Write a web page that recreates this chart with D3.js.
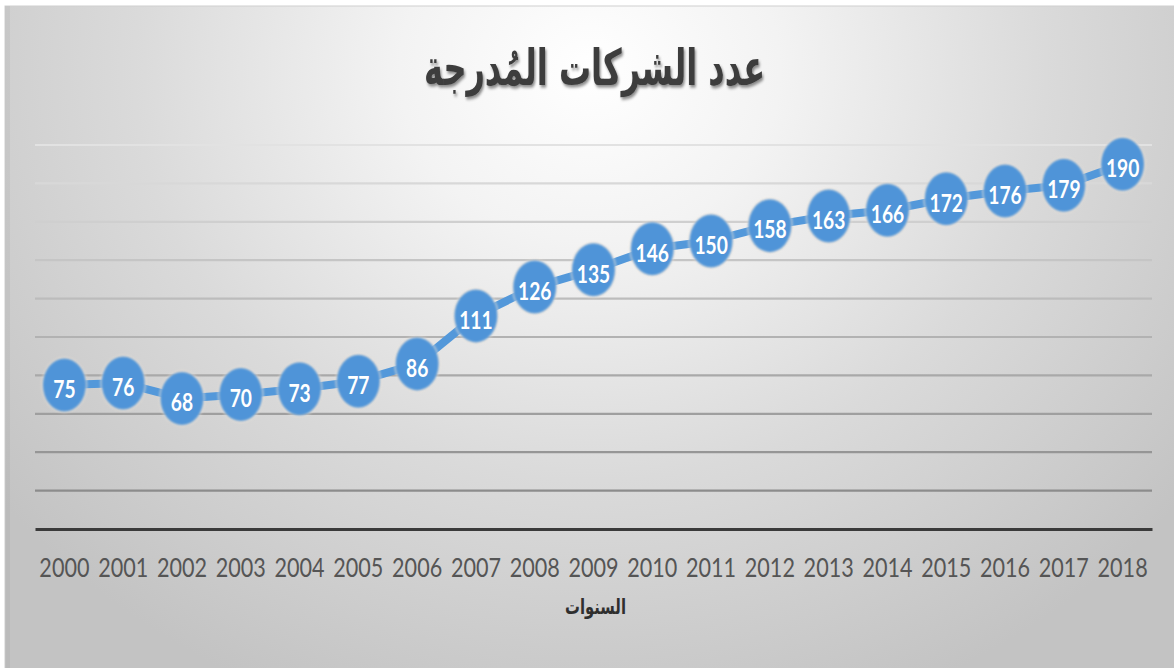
<!DOCTYPE html>
<html>
<head>
<meta charset="utf-8">
<script src="https://cdn.jsdelivr.net/npm/d3@7"></script>
<style>
  html, body { margin: 0; padding: 0; background: #ffffff; }
  svg { display: block; }
</style>
</head>
<body>
<svg id="chart" width="1174" height="668"></svg>
<script>
// Listed companies per year
const years = ["2000","2001","2002","2003","2004","2005","2006","2007","2008","2009",
               "2010","2011","2012","2013","2014","2015","2016","2017","2018"];
const companies = [75, 76, 68, 70, 73, 77, 86, 111, 126, 135, 146, 150, 158, 163, 166, 172, 176, 179, 190];
const gridValues = [20, 40, 60, 80, 100, 120, 140, 160, 180, 200];
const titleText = "عدد الشركات المُدرجة";
const axisTitleText = "السنوات";

const W = 1174, H = 668;
const plot = { left: 35, right: 1152, top: 145, bottom: 529 };
const squeeze = 0.8; // horizontal text compression

const svg = d3.select("#chart");
const defs = svg.append("defs");

// background: light centre near the title, grey towards the edges
const bg = defs.append("radialGradient").attr("id", "bgGrad")
  .attr("gradientUnits", "userSpaceOnUse")
  .attr("cx", 590).attr("cy", 70).attr("r", 760)
  .attr("gradientTransform", "translate(590,70) scale(1,0.9) translate(-590,-70)");
bg.append("stop").attr("offset", "0").attr("stop-color", "#ffffff");
bg.append("stop").attr("offset", "0.25").attr("stop-color", "#f3f3f3");
bg.append("stop").attr("offset", "0.6").attr("stop-color", "#dadada");
bg.append("stop").attr("offset", "1").attr("stop-color", "#c3c3c3");

const shadow = defs.append("filter").attr("id", "titleShadow")
  .attr("x", "-10%").attr("y", "-30%").attr("width", "120%").attr("height", "160%");
shadow.append("feDropShadow").attr("dx", 2).attr("dy", 2.5).attr("stdDeviation", 1.6)
  .attr("flood-color", "#000").attr("flood-opacity", 0.45);

const glow = defs.append("filter").attr("id", "markerGlow")
  .attr("x", "-30%").attr("y", "-30%").attr("width", "160%").attr("height", "160%");
glow.append("feGaussianBlur").attr("in", "SourceGraphic").attr("stdDeviation", 0.8);

svg.append("rect").attr("x", 5).attr("y", 6).attr("width", W).attr("height", H)
  .attr("fill", "url(#bgGrad)").attr("stroke", "#cfcfcf").attr("stroke-width", 1);
svg.append("rect").attr("x", 5).attr("y", 6).attr("width", 5).attr("height", H)
  .attr("fill", "#000").attr("opacity", 0.04);

const x = d3.scaleBand().domain(years).range([plot.left, plot.right]);
const y = d3.scaleLinear().domain([0, 200]).range([plot.bottom, plot.top]);

// gridlines fade towards the top
const gridColor = d3.scaleLinear().domain([20, 200]).range(["#8c8c8c", "#e2e2e2"]);
svg.append("g").selectAll("line").data(gridValues).join("line")
  .attr("x1", plot.left).attr("x2", plot.right)
  .attr("y1", d => y(d)).attr("y2", d => y(d))
  .attr("stroke", d => gridColor(d)).attr("stroke-width", 2.2);

// category axis
const xAxis = svg.append("g").attr("transform", `translate(0,${y(0)})`)
  .call(d3.axisBottom(x).tickSize(0).tickPadding(0));
xAxis.select(".domain").attr("stroke", "#3a3a3a").attr("stroke-width", 3.2);
xAxis.selectAll(".tick text").remove();
xAxis.selectAll(".tick").append("text")
  .attr("transform", `translate(0,48) scale(${squeeze},1)`)
  .attr("text-anchor", "middle")
  .attr("fill", "#555555")
  .style("font-family", "Lato, 'Open Sans', sans-serif")
  .style("font-size", "27px")
  .text(d => d);

// axis title
svg.append("text")
  .attr("transform", `translate(${(plot.left + plot.right) / 2 + 2},614) scale(0.74,1.05)`)
  .attr("text-anchor", "middle")
  .attr("fill", "#2f2f2f")
  .style("font-family", "'DejaVu Sans', sans-serif")
  .style("font-weight", "bold")
  .style("font-size", "20px")
  .text(axisTitleText);

// chart title
svg.append("text")
  .attr("transform", `translate(${(plot.left + plot.right) / 2 + 1},85) scale(0.64,1)`)
  .attr("text-anchor", "middle")
  .attr("fill", "#3d3d3d")
  .attr("filter", "url(#titleShadow)")
  .style("font-family", "'DejaVu Sans', sans-serif")
  .style("font-weight", "bold")
  .style("font-size", "50px")
  .text(titleText);

const pts = years.map((yr, i) => ({ yr, v: companies[i], cx: x(yr) + x.bandwidth() / 2, cy: y(companies[i]) }));

// series line
svg.append("path").datum(pts)
  .attr("d", d3.line().x(d => d.cx).y(d => d.cy))
  .attr("fill", "none").attr("stroke", "#5398da").attr("stroke-width", 8)
  .attr("stroke-linejoin", "round");

// markers with labels
const mk = svg.append("g").selectAll("g").data(pts).join("g")
  .attr("transform", d => `translate(${d.cx},${d.cy})`);
mk.append("ellipse").attr("rx", 23).attr("ry", 28)
  .attr("fill", "#fbe9d6").attr("opacity", 0.55).attr("filter", "url(#markerGlow)");
mk.append("ellipse").attr("rx", 21.5).attr("ry", 26.5)
  .attr("fill", "#4f94d8").attr("filter", "url(#markerGlow)");
mk.append("text")
  .attr("transform", `translate(0,4) scale(${squeeze},1)`)
  .attr("text-anchor", "middle")
  .attr("dominant-baseline", "central")
  .attr("fill", "#ffffff")
  .style("font-family", "Lato, 'Open Sans', sans-serif")
  .style("font-weight", "bold")
  .style("font-size", "24px")
  .text(d => d.v);
</script>
</body>
</html>
